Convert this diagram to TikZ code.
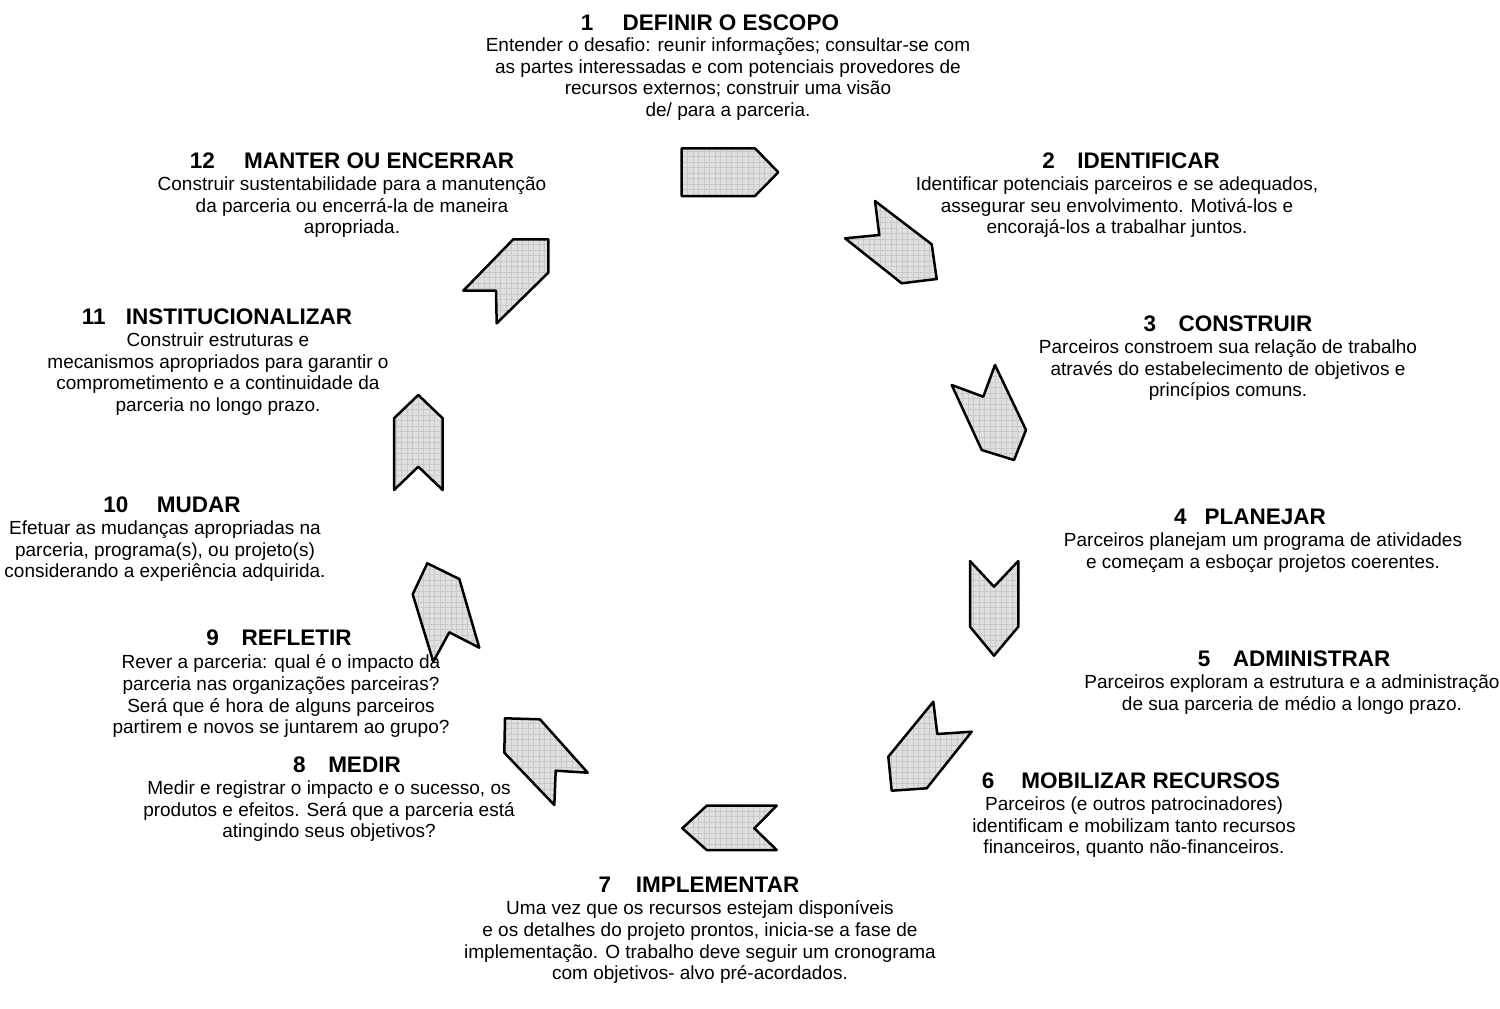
\documentclass[tikz,border=0pt]{standalone}
\usepackage{fontspec}
\setmainfont{Liberation Sans}
\usetikzlibrary{patterns.meta}
\tikzset{
  chevfill/.style={fill=gray!24},
  chevgrid/.style={pattern={Lines[distance=5.5pt,angle=0,line width=0.5pt]}, pattern color=gray!42},
  chevgridv/.style={pattern={Lines[distance=5.5pt,angle=90,line width=0.5pt]}, pattern color=gray!42},
  chevline/.style={draw=black, line width=2.5pt, line join=round},
  ttl/.style={anchor=base, inner sep=0pt, font=\fontsize{22.5}{26}\selectfont\bfseries},
  body/.style={anchor=north, inner sep=0pt, align=center, font=\fontsize{19}{21.7}\selectfont}
}
\begin{document}
\begin{tikzpicture}[x=1pt,y=-1pt]
\useasboundingbox[fill=white] (0,0) rectangle (1500,1009);

% chevrons
\foreach \p in {
 {(681.7,148.3) -- (755,148.3) -- (778.3,172.3) -- (755,196) -- (681.7,196)},
 {(875,201) -- (931.7,244.3) -- (936.7,279) -- (901.7,283.3) -- (845,238.3) -- (879.3,235)},
 {(995,365) -- (1026,430) -- (1014,460) -- (981.7,450) -- (951.7,385) -- (983.3,396.7)},
 {(970,561) -- (994,586.7) -- (1018.3,561) -- (1018.3,626.7) -- (994,655.7) -- (970,626.7)},
 {(933.3,701.7) -- (937.3,734) -- (971.7,731.7) -- (926.7,788.3) -- (891.7,790.7) -- (888.3,756.7)},
 {(706.7,805.7) -- (776.7,805.7) -- (754.3,828.3) -- (776.7,850) -- (706.7,850) -- (682.3,828.3)},
 {(505,718.3) -- (540,719.3) -- (587.7,772.7) -- (555.7,770.7) -- (554.3,805) -- (504.3,752.7)},
 {(427.3,563.3) -- (459.3,579) -- (479.3,647.7) -- (449.3,632.3) -- (433.3,661.7) -- (412.7,594.3)},
 {(418.3,395) -- (442.7,418.3) -- (442.7,490) -- (418.3,466.7) -- (394,490) -- (394,418.3)},
 {(513.3,239.3) -- (548.3,239.3) -- (548.3,272.7) -- (496.7,323.3) -- (496,290.7) -- (463.3,290.7)}
}{
  \fill[chevfill] \p -- cycle;
  \fill[chevgrid] \p -- cycle;
  \fill[chevgridv] \p -- cycle;
  \draw[chevline] \p -- cycle;
}

% titles
\node[ttl] (t1) at (710,30) {1\hspace{1.3em}DEFINIR O ESCOPO};
\node[ttl] (t2) at (1131,168) {2\hspace{1em}IDENTIFICAR};
\node[ttl] (t3) at (1228,331) {3\hspace{1em}CONSTRUIR};
\node[ttl] (t4) at (1250,524) {4\hspace{0.8em}PLANEJAR};
\node[ttl] (t5) at (1294,666) {5\hspace{1em}ADMINISTRAR};
\node[ttl] (t6) at (1131,788) {6\hspace{1.2em}MOBILIZAR RECURSOS};
\node[ttl] (t7) at (699,892) {7\hspace{1.1em}IMPLEMENTAR};
\node[ttl] (t8) at (347,772) {8\hspace{1em}MEDIR};
\node[ttl] (t9) at (279,645) {9\hspace{1em}REFLETIR};
\node[ttl] (t10) at (172,512) {10\hspace{1.27em}MUDAR};
\node[ttl] (t11) at (217,324) {11\hspace{0.9em}INSTITUCIONALIZAR};
\node[ttl] (t12) at (352,168) {12\hspace{1.3em}MANTER OU ENCERRAR};

% bodies
\node[body] (b1) at (728,37.5) {Entender o desafio: reunir informações; consultar-se com\\as partes interessadas e com potenciais provedores de\\recursos externos; construir uma visão\\de/ para a parceria.};
\node[body] (b2) at (1117,176.5) {Identificar potenciais parceiros e se adequados,\\assegurar seu envolvimento. Motivá-los e\\encorajá-los a trabalhar juntos.};
\node[body] (b3) at (1228,339.5) {Parceiros constroem sua relação de trabalho\\através do estabelecimento de objetivos e\\princípios comuns.};
\node[body] (b4) at (1263,532.5) {Parceiros planejam um programa de atividades\\e começam a esboçar projetos coerentes.};
\node[body] (b5) at (1292,674.5) {Parceiros exploram a estrutura e a administração\\de sua parceria de médio a longo prazo.};
\node[body] (b6) at (1134,796.5) {Parceiros (e outros patrocinadores)\\identificam e mobilizam tanto recursos\\financeiros, quanto não-financeiros.};
\node[body] (b7) at (700,900.5) {Uma vez que os recursos estejam disponíveis\\e os detalhes do projeto prontos, inicia-se a fase de\\implementação. O trabalho deve seguir um cronograma\\com objetivos- alvo pré-acordados.};
\node[body] (b8) at (329,780.5) {Medir e registrar o impacto e o sucesso, os\\produtos e efeitos. Será que a parceria está\\atingindo seus objetivos?};
\node[body] (b9) at (281,654.5) {Rever a parceria: qual é o impacto da\\parceria nas organizações parceiras?\\Será que é hora de alguns parceiros\\partirem e novos se juntarem ao grupo?};
\node[body] (b10) at (165,520.5) {Efetuar as mudanças apropriadas na\\parceria, programa(s), ou projeto(s)\\considerando a experiência adquirida.};
\node[body] (b11) at (218,332.5) {Construir estruturas e\\mecanismos apropriados para garantir o\\comprometimento e a continuidade da\\parceria no longo prazo.};
\node[body] (b12) at (352,176.5) {Construir sustentabilidade para a manutenção\\da parceria ou encerrá-la de maneira\\apropriada.};
\end{tikzpicture}
\end{document}
